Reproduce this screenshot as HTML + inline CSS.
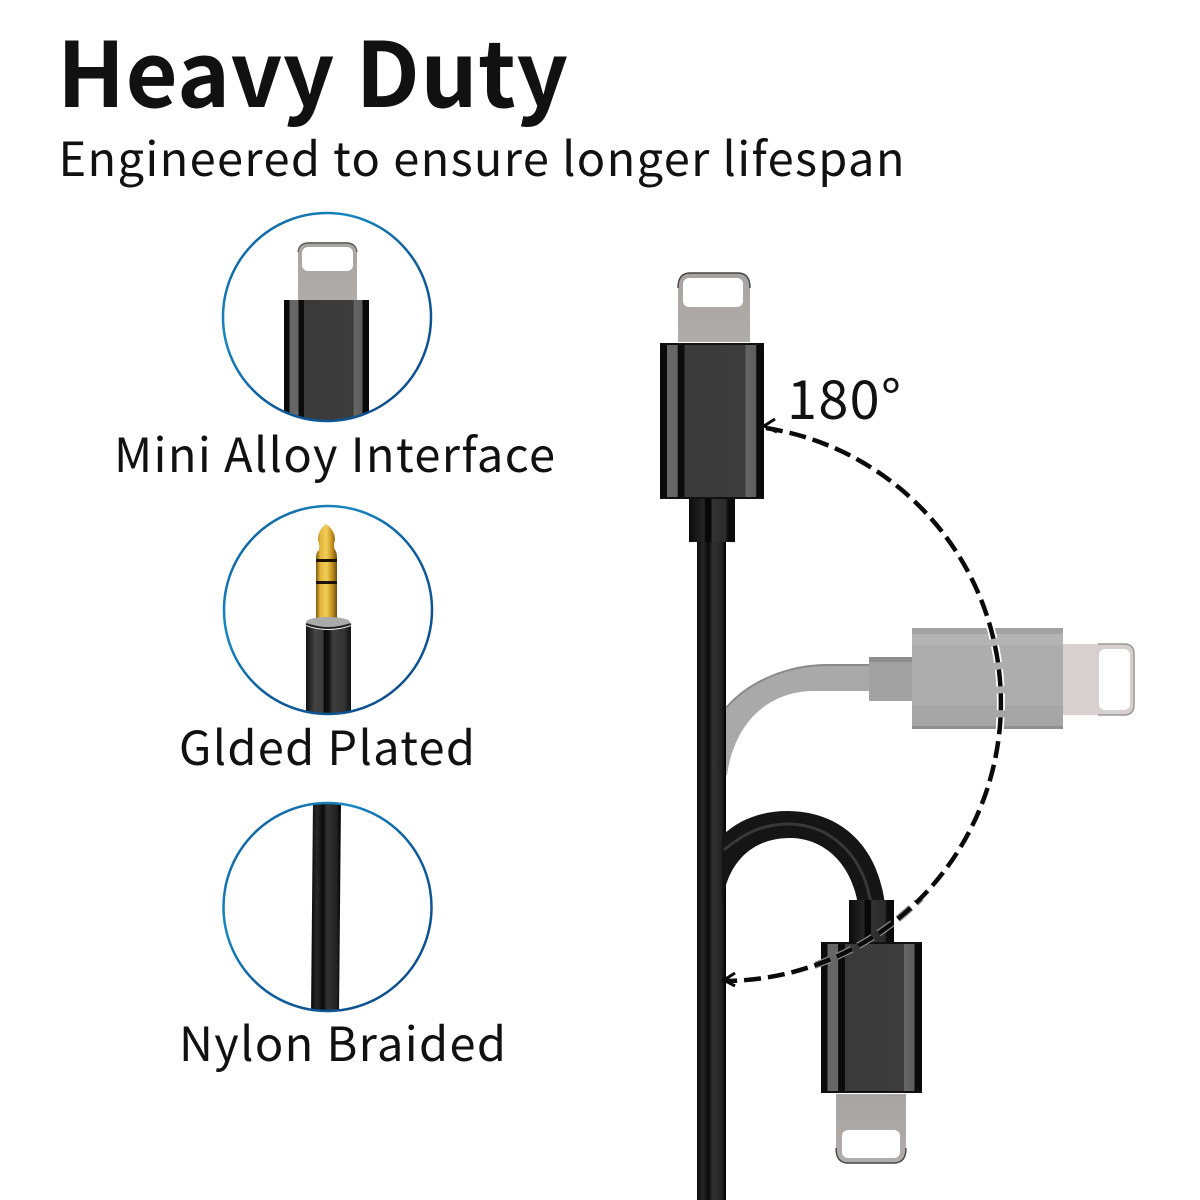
<!DOCTYPE html>
<html><head><meta charset="utf-8"><style>
html,body{margin:0;padding:0;background:#fff}
svg{display:block}
text{font-family:"Noto Sans CJK SC","Noto Sans CJK JP","Liberation Sans",sans-serif;fill:#111}
</style></head><body>
<svg width="1200" height="1200" viewBox="0 0 1200 1200" xmlns="http://www.w3.org/2000/svg">
<defs>
<linearGradient id="ring" x1="0" y1="0" x2="1" y2="1">
<stop offset="0" stop-color="#0e4f8e"/><stop offset=".3" stop-color="#1687c0"/><stop offset=".55" stop-color="#0e5d9c"/><stop offset="1" stop-color="#0d4a88"/>
</linearGradient>
<linearGradient id="body" x1="0" x2="1" y1="0" y2="0">
<stop offset="0" stop-color="#0a0a0a"/><stop offset=".065" stop-color="#0a0a0a"/>
<stop offset=".066" stop-color="#666"/><stop offset=".17" stop-color="#666"/>
<stop offset=".171" stop-color="#0c0c0c"/><stop offset=".235" stop-color="#0c0c0c"/>
<stop offset=".236" stop-color="#3a3a3a"/><stop offset=".82" stop-color="#3c3c3c"/>
<stop offset=".821" stop-color="#666"/><stop offset=".925" stop-color="#5c5c5c"/>
<stop offset=".926" stop-color="#0a0a0a"/><stop offset="1" stop-color="#0a0a0a"/>
</linearGradient>
<linearGradient id="strain" x1="0" x2="1" y1="0" y2="0">
<stop offset="0" stop-color="#0b0b0b"/><stop offset=".33" stop-color="#262626"/><stop offset=".36" stop-color="#080808"/><stop offset=".48" stop-color="#080808"/><stop offset=".5" stop-color="#333"/><stop offset=".8" stop-color="#2a2a2a"/><stop offset=".85" stop-color="#0b0b0b"/><stop offset="1" stop-color="#0b0b0b"/>
</linearGradient>
<linearGradient id="cable" x1="0" x2="1" y1="0" y2="0">
<stop offset="0" stop-color="#0a0a0a"/><stop offset=".2" stop-color="#282828"/><stop offset=".4" stop-color="#0a0a0a"/><stop offset=".55" stop-color="#333"/><stop offset=".85" stop-color="#222"/><stop offset="1" stop-color="#000"/>
</linearGradient>
<linearGradient id="gold" x1="0" x2="1" y1="0" y2="0">
<stop offset="0" stop-color="#7a5a10"/><stop offset=".2" stop-color="#e3b53c"/><stop offset=".5" stop-color="#f2cd5a"/><stop offset=".75" stop-color="#c8951f"/><stop offset="1" stop-color="#6e4e0c"/>
</linearGradient>
<linearGradient id="jack" x1="0" x2="1" y1="0" y2="0">
<stop offset="0" stop-color="#111"/><stop offset=".2" stop-color="#444"/><stop offset=".38" stop-color="#3a3a3a"/><stop offset=".4" stop-color="#0a0a0a"/><stop offset=".5" stop-color="#111"/><stop offset=".6" stop-color="#3d3d3d"/><stop offset=".85" stop-color="#333"/><stop offset="1" stop-color="#111"/>
</linearGradient>
<linearGradient id="metal" x1="0" x2="0" y1="0" y2="1">
<stop offset="0" stop-color="#a8a4a2"/><stop offset="1" stop-color="#b0acaa"/>
</linearGradient>
<clipPath id="c1"><circle cx="327" cy="317" r="104"/></clipPath>
<clipPath id="c2"><circle cx="328" cy="610" r="104"/></clipPath>
<clipPath id="c3"><circle cx="327.5" cy="907" r="104"/></clipPath>
<clipPath id="greyBody"><rect x="912" y="628" width="151" height="101"/></clipPath>
<clipPath id="lowerZone"><rect x="815" y="900" width="110" height="90"/></clipPath>
</defs>
<rect width="1200" height="1200" fill="#fff"/>

<!-- Heading -->
<text x="57" y="107" font-size="90" font-weight="700" textLength="511" lengthAdjust="spacing">Heavy Duty</text>
<text x="58.5" y="176" font-size="47" textLength="846" lengthAdjust="spacing">Engineered to ensure longer lifespan</text>

<!-- Circle 1 -->
<g clip-path="url(#c1)">
<path d="M298 300V253Q298 242 309 242H346Q357 242 357 253V300Z" fill="url(#metal)"/>
<path d="M298 252Q299 243 309 243H346Q356 243 357 252" fill="none" stroke="#555" stroke-width="1.2"/>
<rect x="302" y="247" width="51" height="24" rx="6" fill="#fff"/>
<rect x="284" y="300" width="85" height="125" fill="url(#body)"/>
</g>
<circle cx="327" cy="317" r="104" fill="none" stroke="url(#ring)" stroke-width="2.5"/>
<text x="114" y="472" font-size="47" textLength="441" lengthAdjust="spacing">Mini Alloy Interface</text>

<!-- Circle 2 -->
<g clip-path="url(#c2)">
<path d="M316 625V558Q316 552 319 550Q320 546 318 540Q318 530 326 524Q335 530 335 540Q333 546 335 550Q337 552 337 558V625Z" fill="url(#gold)"/>
<rect x="316" y="559" width="21" height="3" fill="#1a1206"/>
<rect x="316" y="581" width="21" height="3" fill="#1a1206"/>
<ellipse cx="328" cy="622" rx="22" ry="5" fill="#aaa"/>
<path d="M306 626Q328 634 351 626V716H306Z" fill="url(#jack)"/>
<path d="M306 624Q328 632 351 624" fill="none" stroke="#222" stroke-width="2"/>
</g>
<circle cx="328" cy="610" r="104" fill="none" stroke="url(#ring)" stroke-width="2.5"/>
<text x="179" y="765" font-size="47" textLength="296" lengthAdjust="spacing">Glded Plated</text>

<!-- Circle 3 -->
<g clip-path="url(#c3)">
<path d="M313 800H341L339 1015H311Z" fill="url(#cable)"/>
</g>
<circle cx="327.5" cy="907" r="104" fill="none" stroke="url(#ring)" stroke-width="2.5"/>
<text x="179" y="1061" font-size="47" textLength="327" lengthAdjust="spacing">Nylon Braided</text>

<!-- Grey bent connector -->
<path d="M725 710C750 680 790 665 827 665H870V691H812C770 692 735 720 727 775L723 775Z" fill="#a9a9a9"/>
<path d="M726 708C750 680 790 665 827 665H870" fill="none" stroke="#8a8a8a" stroke-width="2"/>
<rect x="869" y="657" width="43" height="44" fill="#a2a2a2"/>
<rect x="869" y="657" width="43" height="5" fill="#8d8d8d"/>
<rect x="912" y="628" width="151" height="101" fill="#adadad"/>
<rect x="912" y="628" width="151" height="6" fill="#a2a2a2"/>
<rect x="912" y="634" width="151" height="11" fill="#b4b4b4"/>
<rect x="912" y="705" width="151" height="24" fill="#a6a6a6"/>
<rect x="912" y="726" width="151" height="3" fill="#8f8f8f"/>
<path d="M1063 644H1124Q1134 644 1134 654V705Q1134 715 1124 715H1063Z" fill="#d6d1cf"/>
<path d="M1098 644H1124Q1134 644 1134 654V705Q1134 715 1124 715H1098" fill="none" stroke="#999" stroke-width="1.5"/>
<rect x="1099" y="649" width="31" height="61" rx="6" fill="#fff"/>

<!-- Main vertical connector -->
<rect x="697" y="538" width="29" height="662" fill="url(#cable)"/>
<path d="M678 342V285Q678 273 690 273H738Q750 273 750 285V342Z" fill="url(#metal)"/>
<path d="M678 288Q678 273 690 273H738Q750 273 750 288" fill="none" stroke="#444" stroke-width="1.4"/>
<rect x="683" y="278" width="60" height="29" rx="6" fill="#fff"/>
<rect x="660" y="343" width="104" height="156" rx="1" fill="url(#body)"/>
<rect x="660" y="343" width="104" height="2" fill="#111"/>
<rect x="660" y="497" width="104" height="2" fill="#111"/>
<rect x="689" y="499" width="46" height="43" fill="url(#strain)"/>

<!-- Lower black loop -->
<path d="M722 836C740 818 765 811 787 811C840 811 878 845 885 905L858 905C852 865 825 838 790 838C750 838 726 865 722 905Z" fill="#151515"/>
<path d="M724 850C745 832 765 824 788 824C830 824 864 855 871 905" fill="none" stroke="#383838" stroke-width="3"/>
<rect x="849" y="900" width="45" height="43" fill="url(#strain)"/>
<rect x="821" y="942" width="101" height="151" rx="1" fill="url(#body)"/>
<rect x="821" y="942" width="101" height="2" fill="#111"/>
<rect x="821" y="1091" width="101" height="2" fill="#111"/>
<path d="M836 1094V1151Q836 1163 848 1163H894Q906 1163 906 1151V1094Z" fill="url(#metal)"/>
<path d="M836 1148Q836 1163 848 1163H894Q906 1163 906 1148" fill="none" stroke="#444" stroke-width="1.4"/>
<rect x="842" y="1130" width="58" height="28" rx="6" fill="#fff"/>

<!-- Dashed arc -->
<g clip-path="url(#greyBody)">
<path d="M766 428A278.2 278.2 0 0 1 725 981" fill="none" stroke="#fff" stroke-width="8" stroke-dasharray="17 7"/>
</g>
<g clip-path="url(#lowerZone)">
<path d="M766 428A278.2 278.2 0 0 1 725 981" fill="none" stroke="#8a8a8a" stroke-width="7" stroke-dasharray="17 7"/>
</g>
<path d="M766 428A278.2 278.2 0 0 1 725 981" fill="none" stroke="#0a0a0a" stroke-width="4.5" stroke-dasharray="17 7"/>
<path d="M775 419L764 426L777 432" fill="none" stroke="#0a0a0a" stroke-width="3"/>
<path d="M735 973L724 980L735 986" fill="none" stroke="#0a0a0a" stroke-width="3"/>

<text x="787" y="419" font-size="54" textLength="114" lengthAdjust="spacing">180°</text>
</svg>
</body></html>
